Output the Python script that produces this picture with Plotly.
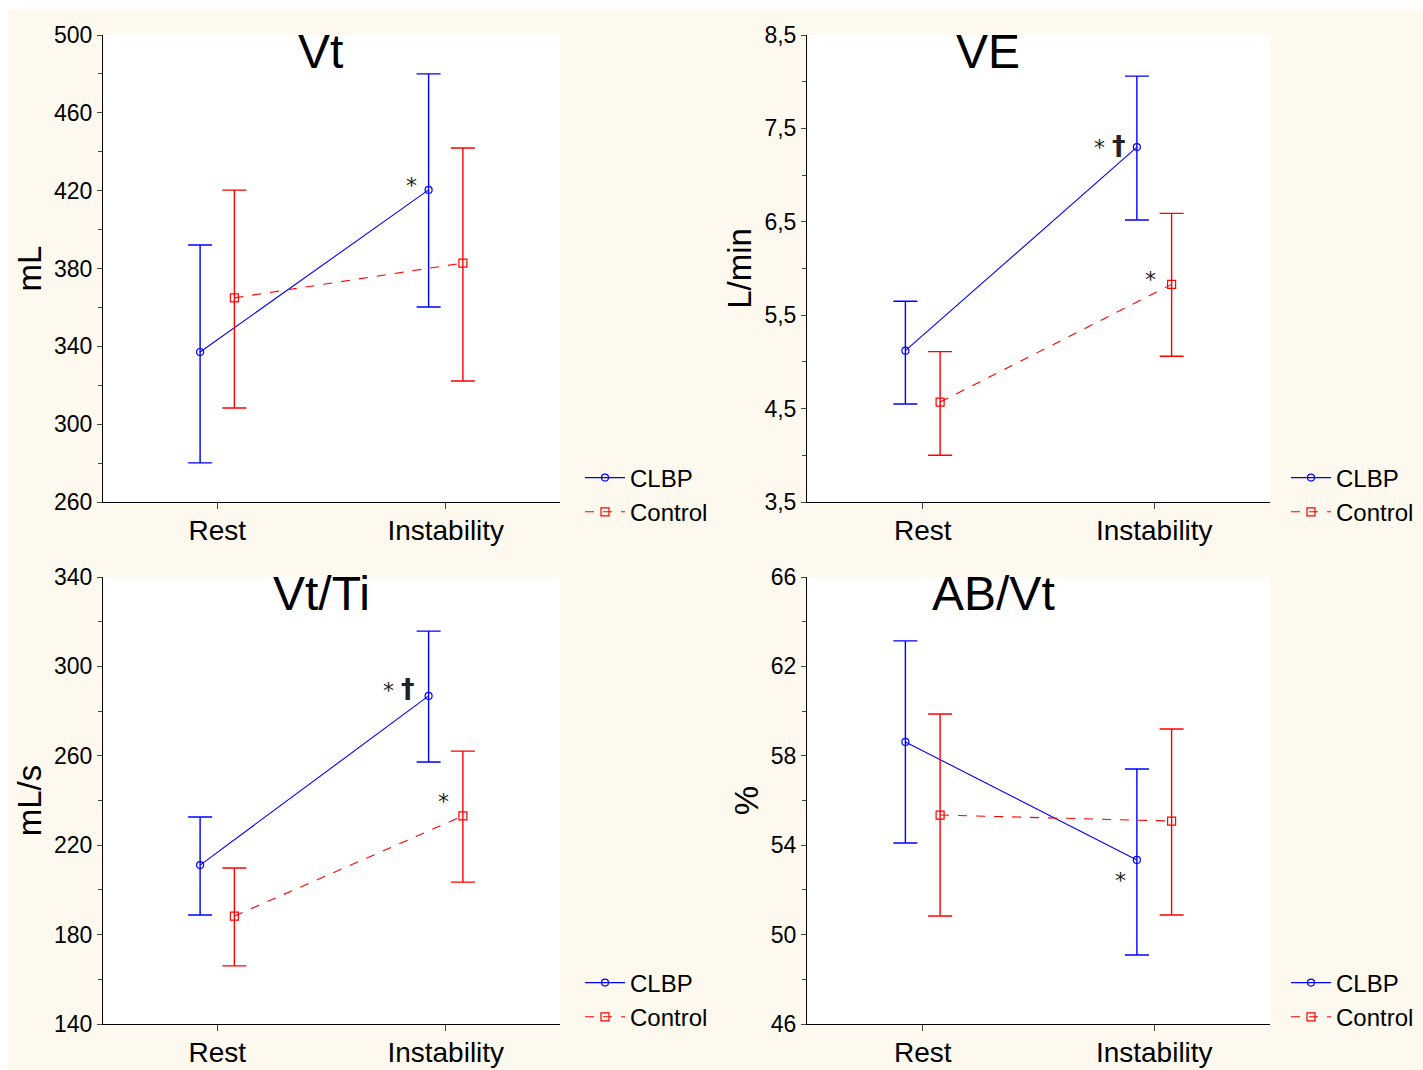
import numpy as np
import plotly.graph_objects as go

categories = ["Rest", "Instability"]
titles = ["Vt", "VE", "Vt/Ti", "AB/Vt"]
y_titles = ["mL", "L/min", "mL/s", "%"]

# CLBP (blue) means / upper / lower
clbp_mean = [[337.1, 420.4], [5.12, 7.30], [211.1, 286.8], [58.62, 53.34]]
clbp_up = [[392.1, 480.0], [5.65, 8.06], [232.6, 315.8], [63.14, 57.41]]
clbp_lo = [[280.1, 360.2], [4.55, 6.52], [188.8, 257.2], [54.10, 49.09]]
# Control (red)
ctrl_mean = [[364.9, 382.8], [4.57, 5.83], [188.3, 233.1], [55.35, 55.08]]
ctrl_up = [[420.3, 441.9], [5.11, 6.59], [209.8, 262.1], [59.87, 59.20]]
ctrl_lo = [[308.3, 322.2], [4.00, 5.06], [166.0, 203.5], [50.83, 50.88]]

y_ranges = [[260, 500], [3.5, 8.5], [140, 340], [46, 66]]
y_dticks = [40, 1, 40, 4]

# significance markers: (panel, category index, series, text)
DAG = "<span style='font-size:27px'><b>†</b></span>"
marks = [
    (0, 1, "clbp", "*"),
    (1, 1, "clbp", "* " + DAG),
    (1, 1, "ctrl", "*"),
    (2, 1, "clbp", "* " + DAG),
    (2, 1, "ctrl", "*"),
    (3, 1, "clbp", "*"),
]
# pixel shifts of marker labels (style)
mark_shifts = [(-10, 4), (-9, 2), (-14, 5), (-12, 7), (-12, 14), (-9, -21)]

FONT = "Liberation Sans Narrow, Arial Narrow, Liberation Sans, Arial, sans-serif"
W, H = 1423, 1070
BLUE = "#0000FF"
RED = "#FF0000"
CREAM = "#FDF9EE"

def px_x(p):
    return p / W

def px_y(p):
    return 1 - p / H

x_domains = [[px_x(103), px_x(560)], [px_x(807), px_x(1270)]] * 2
y_domains = [[px_y(502), px_y(35)]] * 2 + [[px_y(1024), px_y(577)]] * 2
title_x = [0.475, 0.391, 0.479, 0.402]

off = 0.075
xs = np.arange(len(categories))

fig = go.Figure()
layout = {}
annotations = []
shapes = [dict(type="rect", xref="paper", yref="paper",
               x0=px_x(8), x1=1, y0=0, y1=px_y(10),
               fillcolor=CREAM, line=dict(width=0), layer="below")]
for i in range(4):
    xa = "x" if i == 0 else f"x{i+1}"
    ya = "y" if i == 0 else f"y{i+1}"
    lg = "legend" if i == 0 else f"legend{i+1}"
    cm = np.array(clbp_mean[i]); cu = np.array(clbp_up[i]); cl = np.array(clbp_lo[i])
    rm = np.array(ctrl_mean[i]); ru = np.array(ctrl_up[i]); rl = np.array(ctrl_lo[i])
    fig.add_trace(go.Scatter(
        x=xs - off, y=cm, mode="lines+markers", name="CLBP",
        line=dict(color=BLUE, width=1.1),
        marker=dict(symbol="circle-open", size=7, color=BLUE, line=dict(width=1.2)),
        error_y=dict(type="data", symmetric=False, array=cu - cm, arrayminus=cm - cl,
                     color=BLUE, thickness=1.4, width=12),
        xaxis=xa, yaxis=ya, legend=lg))
    fig.add_trace(go.Scatter(
        x=xs + off, y=rm, mode="lines+markers", name="Control",
        line=dict(color=RED, width=1.1, dash="dash"),
        marker=dict(symbol="square-open", size=8, color=RED, line=dict(width=1.2)),
        error_y=dict(type="data", symmetric=False, array=ru - rm, arrayminus=rm - rl,
                     color=RED, thickness=1.4, width=12),
        xaxis=xa, yaxis=ya, legend=lg))

    xkey = "xaxis" if i == 0 else f"xaxis{i+1}"
    ykey = "yaxis" if i == 0 else f"yaxis{i+1}"
    layout[xkey] = dict(
        domain=x_domains[i], anchor=ya, range=[-0.5, 1.5],
        tickvals=list(xs), ticktext=categories, ticks="outside", ticklen=6,
        ticklabelstandoff=-3,
        showline=True, linecolor="black", linewidth=1, showgrid=False, zeroline=False,
        tickfont=dict(family=FONT, size=28, color="black"), fixedrange=True)
    layout[ykey] = dict(
        domain=y_domains[i], anchor=xa, range=y_ranges[i],
        tick0=y_ranges[i][0], dtick=y_dticks[i], ticks="outside", ticklen=5,
        minor=dict(ticks="outside", ticklen=4, dtick=y_dticks[i] / 2, tick0=y_ranges[i][0], showgrid=False),
        tickformat=".1f" if i == 1 else "d",
        showline=True, linecolor="black", linewidth=1, showgrid=False, zeroline=False,
        tickfont=dict(family=FONT, size=23, color="black"),
        title=dict(text=y_titles[i], font=dict(family=FONT, size=33, color="black"), standoff=2),
        fixedrange=True)
    layout[lg] = dict(
        x=px_x(580 if i % 2 == 0 else 1286), xanchor="left",
        y=px_y(495 if i < 2 else 1000), yanchor="middle",
        bgcolor="rgba(0,0,0,0)", font=dict(family=FONT, size=24, color="black"),
        itemwidth=40, tracegroupgap=0)
    shapes.append(dict(type="rect", xref=f"{xa} domain", yref=f"{ya} domain",
                       x0=0, x1=1, y0=0, y1=1, fillcolor="white",
                       line=dict(width=0), layer="below"))
    # panel title
    annotations.append(dict(
        text=titles[i], xref=f"{xa} domain", yref=f"{ya} domain",
        x=title_x[i], y=1, xanchor="center", yanchor="top", yshift=12,
        showarrow=False, font=dict(family=FONT, size=48, color="black")))

for (p, ci, s, txt), (dx, dy) in zip(marks, mark_shifts):
    xa = "x" if p == 0 else f"x{p+1}"
    ya = "y" if p == 0 else f"y{p+1}"
    if s == "ctrl":
        xv = xs[ci] + off
        yv = ctrl_mean[p][ci]
    else:
        xv = xs[ci] - off
        yv = clbp_mean[p][ci]
    annotations.append(dict(
        text=txt, x=xv, y=yv, xref=xa, yref=ya,
        xanchor="right", yanchor="middle",
        xshift=dx, yshift=dy,
        showarrow=False, font=dict(family="DejaVu Sans, sans-serif", size=22, color="#222222")))

fig.update_layout(
    **layout,
    annotations=annotations,
    shapes=shapes,
    width=W, height=H,
    margin=dict(l=0, r=0, t=0, b=0, autoexpand=False),
    paper_bgcolor="white", plot_bgcolor="white",
    separators=", ",
    showlegend=True,
)

fig.write_html(
    "out.html",
    config={"displayModeBar": False},
    post_script="document.body.style.margin='0';document.body.style.overflow='hidden';",
)
